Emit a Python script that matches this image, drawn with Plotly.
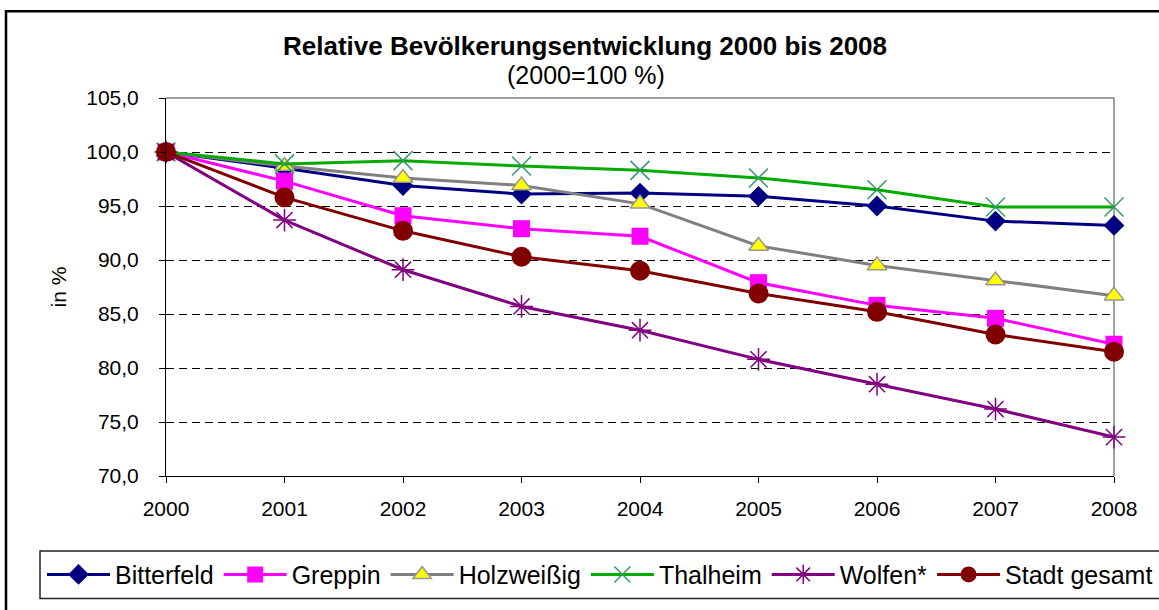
import plotly.graph_objects as go

years = [2000, 2001, 2002, 2003, 2004, 2005, 2006, 2007, 2008]
bitterfeld = [100, 98.5, 96.9, 96.1, 96.2, 95.9, 95.0, 93.6, 93.2]
greppin = [100, 97.3, 94.1, 92.9, 92.2, 87.9, 85.8, 84.6, 82.2]
holzweissig = [100, 98.7, 97.6, 96.9, 95.2, 91.3, 89.5, 88.1, 86.7]
thalheim = [100, 98.9, 99.2, 98.7, 98.3, 97.6, 96.5, 94.9, 94.9]
wolfen = [100, 93.7, 89.1, 85.7, 83.5, 80.8, 78.5, 76.2, 73.6]
stadt = [100, 95.8, 92.7, 90.3, 89.0, 86.9, 85.2, 83.1, 81.5]

y_ticks = [70, 75, 80, 85, 90, 95, 100, 105]

FONT = "Arial, 'Liberation Sans', sans-serif"

series = [
    ("Bitterfeld", bitterfeld, "#000080", dict(symbol="diamond", size=16, color="#000080")),
    ("Greppin", greppin, "#FF00FF", dict(symbol="square", size=17, color="#FF00FF")),
    ("Holzweißig", holzweissig, "#808080", dict(symbol="triangle-up", size=17, color="#FFFF00",
                                                 line=dict(color="#969696", width=1.5))),
    ("Thalheim", thalheim, "#00AA00", dict(symbol="x-thin-open", size=19, color="#339966",
                                           line=dict(color="#339966", width=1.5))),
    ("Wolfen*", wolfen, "#800080", dict(symbol="asterisk-open", size=19, color="#800080",
                                        line=dict(color="#800080", width=1.5))),
    ("Stadt gesamt", stadt, "#800000", dict(symbol="circle", size=20, color="#800000")),
]

fig = go.Figure()
for name, vals, col, mk in series:
    fig.add_trace(go.Scatter(
        x=years, y=vals, name=name, mode="lines+markers",
        line=dict(color=col, width=3), marker=mk, cliponaxis=False,
    ))

W, H = 1159, 610
L, R, T, B = 166, 45, 98, 129
pw, ph = W - L - R, H - T - B

def px(xp):
    return (xp - L) / pw

def py(yp):
    return (H - B - yp) / ph

fig.update_layout(
    width=W, height=H,
    margin=dict(l=L, r=R, t=T, b=B, pad=0),
    paper_bgcolor="white", plot_bgcolor="white",
    separators=",.",
    font=dict(family=FONT, color="black", size=21),
    showlegend=True,
    legend=dict(
        orientation="h", x=px(42), xanchor="left", y=py(581), yanchor="middle",
        font=dict(size=25, family=FONT, color="black"),
        bgcolor="rgba(0,0,0,0)", borderwidth=0, itemwidth=63,
        traceorder="normal",
    ),
    xaxis=dict(
        range=[2000, 2008], tickmode="array", tickvals=years, ticktext=[str(y) for y in years],
        showgrid=False, zeroline=False, showline=True, linecolor="black", linewidth=1,
        ticks="outside", ticklen=6, tickcolor="black", tickwidth=1,
        tickfont=dict(size=21, family=FONT, color="black"), ticklabelstandoff=8,
    ),
    yaxis=dict(
        range=[70, 105], tickmode="array", tickvals=y_ticks, tickformat=".1f",
        showgrid=True, gridcolor="black", gridwidth=1, griddash="8px,5px",
        zeroline=False, showline=True, linecolor="black", linewidth=1,
        ticks="outside", ticklen=6, tickcolor="black", tickwidth=1,
        tickfont=dict(size=21, family=FONT, color="black"), ticklabelstandoff=16,
    ),
    shapes=[
        # outer chart border
        dict(type="rect", xref="paper", yref="paper", x0=px(6), x1=px(1175), y0=py(625), y1=py(10),
             line=dict(color="black", width=2.5), fillcolor="rgba(0,0,0,0)", layer="below"),
        # plot area top and right border (gray)
        dict(type="line", xref="paper", yref="paper", x0=0, x1=1, y0=1, y1=1,
             line=dict(color="#808080", width=1.5), layer="above"),
        dict(type="line", xref="paper", yref="paper", x0=1, x1=1, y0=0, y1=1,
             line=dict(color="#808080", width=1.5), layer="below"),
        # legend box
        dict(type="rect", xref="paper", yref="paper", x0=px(40), x1=px(1175), y0=py(605), y1=py(557),
             line=dict(color="#222222", width=1.5), fillcolor="rgba(0,0,0,0)", layer="above"),
    ],
    annotations=[
        dict(text="<b>Relative Bevölkerungsentwicklung 2000 bis 2008</b>", xref="paper", yref="paper",
             x=px(585), y=py(45), xanchor="center", yanchor="middle", showarrow=False,
             font=dict(size=26, family=FONT, color="black")),
        dict(text="(2000=100 %)", xref="paper", yref="paper",
             x=px(586), y=py(75), xanchor="center", yanchor="middle", showarrow=False,
             font=dict(size=25, family=FONT, color="black")),
        dict(text="in %", xref="paper", yref="paper", textangle=-90,
             x=px(58), y=py(290), xanchor="center", yanchor="middle", showarrow=False,
             font=dict(size=21, family=FONT, color="black")),
    ],
)

fig.write_html("out.html", config={"displayModeBar": False},
               post_script="document.body.style.margin='0';")
